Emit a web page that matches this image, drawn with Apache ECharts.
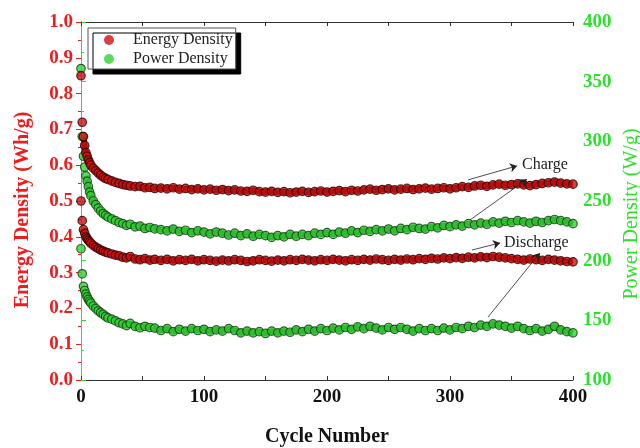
<!DOCTYPE html>
<html>
<head>
<meta charset="utf-8">
<script src="https://cdn.jsdelivr.net/npm/echarts@6/dist/echarts.min.js"></script>
<style>
  html, body { margin: 0; padding: 0; background: #fff; }
  #chart { width: 640px; height: 448px; }
</style>
</head>
<body>
<div id="chart"></div>
<script>
// cycle numbers (x)
var cycles = [0, 1, 2, 3, 4, 5, 6, 7, 8, 10, 12, 14, 16, 18, 20, 22, 25, 28, 31, 34, 37, 40, 44, 48, 52, 56, 60,
  65, 70, 75, 80, 85, 90, 95, 100, 105, 110, 115, 120, 125, 130, 135, 140, 145, 150, 155, 160, 165, 170, 175, 180,
  185, 190, 195, 200, 205, 210, 215, 220, 225, 230, 235, 240, 245, 250, 255, 260, 265, 270, 275, 280, 285, 290, 295,
  300, 305, 310, 315, 320, 325, 330, 335, 340, 345, 350, 355, 360, 365, 370, 375, 380, 385, 390, 395, 400];

// energy density, charge (Wh/g)
var energyCharge = [0.85, 0.72, 0.68, 0.655, 0.635, 0.625, 0.615, 0.607, 0.6, 0.592, 0.585, 0.578, 0.572, 0.567, 0.563, 0.56, 0.556, 0.552, 0.549, 0.546, 0.544, 0.542, 0.54, 0.541, 0.537, 0.538, 0.535,
  0.536, 0.534, 0.537, 0.533, 0.535, 0.532, 0.534, 0.531, 0.533, 0.53, 0.532, 0.529, 0.531, 0.528, 0.527, 0.53, 0.526, 0.525, 0.527, 0.524, 0.526, 0.523, 0.525, 0.527,
  0.524, 0.526, 0.528, 0.525, 0.527, 0.529, 0.526, 0.53, 0.528, 0.531, 0.533, 0.53, 0.532, 0.534, 0.531, 0.533, 0.535, 0.532, 0.534, 0.536, 0.533, 0.535, 0.537,
  0.534, 0.537, 0.54, 0.538, 0.542, 0.544, 0.541, 0.545, 0.547, 0.544, 0.546, 0.548, 0.545, 0.543, 0.546, 0.549, 0.551, 0.553, 0.55, 0.548, 0.547];

// energy density, discharge (Wh/g)
var energyDischarge = [0.5, 0.445, 0.42, 0.41, 0.4, 0.395, 0.39, 0.386, 0.382, 0.376, 0.371, 0.367, 0.363, 0.36, 0.357, 0.355, 0.352, 0.349, 0.347, 0.343, 0.341, 0.345, 0.338, 0.336, 0.339, 0.335, 0.337,
  0.334, 0.337, 0.333, 0.336, 0.334, 0.337, 0.333, 0.336, 0.334, 0.332, 0.335, 0.333, 0.336, 0.334, 0.331, 0.333, 0.336, 0.334, 0.332, 0.335, 0.333, 0.336, 0.334, 0.337,
  0.335, 0.333, 0.336, 0.334, 0.337, 0.335, 0.333, 0.336, 0.334, 0.337, 0.335, 0.338, 0.336, 0.334, 0.337, 0.335, 0.338, 0.336, 0.339, 0.337, 0.34, 0.338, 0.341,
  0.339, 0.342, 0.34, 0.343, 0.341, 0.344, 0.342, 0.345, 0.343, 0.341, 0.339, 0.337, 0.335, 0.338, 0.336, 0.334, 0.337, 0.335, 0.333, 0.331, 0.33];

// power density, charge (W/g)
var powerCharge = [361, 304, 287.5, 278.5, 271, 266.5, 262, 257.5, 254.5, 250, 247, 244, 241.6, 239.5, 238, 236.5, 235, 233.5, 232, 231, 229.6, 230.5, 228.4, 229, 227, 227.8, 226.6,
  226, 225, 226.5, 224.5, 225.5, 223.5, 225, 224, 222.5, 224, 223, 221.5, 223, 221, 222.5, 220.5, 222, 221, 219.5, 221, 220, 222, 220.5, 222,
  221, 223, 222, 223.5, 222, 224, 223, 225, 223.5, 225.5, 224.5, 226, 225, 226.5, 225, 227, 226, 228, 227, 226.5, 228.5, 227.5, 229.5,
  228.5, 230, 229, 231, 230, 231.5, 230.5, 232.5, 231.5, 233, 232, 233.5, 232.5, 231.5, 233, 232, 233.5, 234.5, 233.5, 232.5, 231];

// power density, discharge (W/g)
var powerDischarge = [210, 189, 178.5, 175, 172, 169.6, 167.5, 166, 164.5, 162, 160, 158, 156.4, 155, 153.4, 152, 151, 149.5, 148, 147, 145.6, 147.4, 145, 143.8, 145, 144, 143.5,
  141.5, 143, 140.5, 142.5, 141, 143, 141.5, 142.5, 140.5, 142, 141, 143, 141.5, 139.5, 141, 139.5, 140.5, 139, 141, 139.5, 141, 140, 142, 140.5,
  142.5, 141, 143, 141.5, 143.5, 142, 144, 142.5, 144.5, 143, 145, 143.5, 142, 144, 142.5, 144, 142.5, 141, 143, 141.5, 143, 141.5, 143.5,
  142, 144, 143, 145, 144, 146, 145, 147, 146, 145, 143.5, 145, 143, 141.5, 143, 141, 142.5, 145, 142, 140.5, 139.5];

function pairs(vals, from) {
  var out = [];
  for (var i = from || 0; i < cycles.length; i++) out.push([cycles[i], vals[i]]);
  return out;
}

var RED = '#ee1c1c';
var GREEN = '#2ee02e';
var SERIF = '"Liberation Serif", "DejaVu Serif", serif';

var redDot = { color: '#cc1010', borderColor: '#2a0202', borderWidth: 1.2 };
var greenDot = { color: '#34d234', borderColor: '#143c14', borderWidth: 1.2 };

var arrowStyle = { color: '#222', width: 0.8, type: 'solid' };

// dense chain look: thick line behind the dots
function band(name, yIdx, data, color) {
  return {
    name: name, type: 'line', yAxisIndex: yIdx, data: data, showSymbol: false, silent: true,
    z: 1, lineStyle: { color: color, width: 6 }
  };
}
function dots(name, yIdx, data, style) {
  return { name: name, type: 'scatter', yAxisIndex: yIdx, data: data, symbolSize: 8.5, itemStyle: style, z: 2 };
}

var edSeries = dots('Energy Density', 0, pairs(energyDischarge), redDot);
edSeries.markLine = {
  silent: true, symbol: ['none', 'arrow'], symbolSize: 7,
  label: { show: false }, lineStyle: arrowStyle,
  data: [
    [{ coord: [314.6, 0.559] }, { coord: [354.5, 0.598] }],
    [{ coord: [316.3, 0.447] }, { coord: [362.6, 0.561] }],
    [{ coord: [317.9, 0.363] }, { coord: [340.7, 0.383] }],
    [{ coord: [330.9, 0.176] }, { coord: [373.2, 0.355] }]
  ]
};

var chart = echarts.init(document.getElementById('chart'));
chart.setOption({
  animation: false,
  backgroundColor: '#fff',
  grid: { left: 81, right: 67, top: 22, bottom: 68, containLabel: false, outerBoundsMode: 'none' },
  legend: {
    data: ['Energy Density', 'Power Density'],
    orient: 'vertical',
    left: 88, top: 28,
    itemWidth: 10, itemHeight: 10, itemGap: 3,
    padding: [4, 3, 2, 16],
    backgroundColor: '#fff',
    borderColor: '#555', borderWidth: 1,
    shadowColor: '#000', shadowOffsetX: 5, shadowOffsetY: 5, shadowBlur: 0,
    itemStyle: { borderWidth: 0 },
    textStyle: { fontFamily: SERIF, fontSize: 16, lineHeight: 16, color: '#222', padding: [0, 0, 0, 14] }
  },
  xAxis: [{
    type: 'value', min: 0, max: 400, interval: 100,
    name: 'Cycle Number', nameLocation: 'middle', nameGap: 47,
    nameTextStyle: { fontFamily: SERIF, fontSize: 20, fontWeight: 'bold', color: '#111' },
    axisLine: { lineStyle: { color: '#333', width: 1 } },
    axisTick: { inside: true, length: 4, lineStyle: { color: '#333' } },
    minorTick: { show: true, splitNumber: 2, length: 4, lineStyle: { color: '#333' } },
    axisLabel: { fontFamily: SERIF, fontSize: 19, fontWeight: 'bold', color: '#111', margin: 8 },
    splitLine: { show: false }
  }, {
    type: 'value', min: 0, max: 400, interval: 100, position: 'top',
    axisLine: { show: true, lineStyle: { color: '#333', width: 1 } },
    axisTick: { inside: true, length: 4, lineStyle: { color: '#333' } },
    minorTick: { show: true, splitNumber: 2, length: 4, lineStyle: { color: '#333' } },
    axisLabel: { show: false },
    splitLine: { show: false }
  }],
  yAxis: [{
    type: 'value', min: 0, max: 1, interval: 0.1, position: 'left',
    axisLine: { show: true, lineStyle: { color: RED, width: 1 } },
    axisTick: { show: true, length: 5, lineStyle: { color: RED } },
    minorTick: { show: true, splitNumber: 2, length: 3, lineStyle: { color: RED } },
    axisLabel: { fontFamily: SERIF, fontSize: 19, fontWeight: 'bold', color: RED, margin: 8,
      formatter: function (v) { return v.toFixed(1); } },
    splitLine: { show: false }
  }, {
    type: 'value', min: 100, max: 400, interval: 50, position: 'right',
    axisLine: { show: true, lineStyle: { color: GREEN, width: 1 } },
    axisTick: { show: true, length: 5, lineStyle: { color: GREEN } },
    minorTick: { show: true, splitNumber: 2, length: 3, lineStyle: { color: GREEN } },
    axisLabel: { fontFamily: SERIF, fontSize: 19, fontWeight: 'bold', color: GREEN, margin: 10 },
    splitLine: { show: false }
  }],
  series: [
    dots('Power Density', 1, pairs(powerCharge), greenDot),
    band('pcBand', 1, pairs(powerCharge, 4), '#1f6e1f'),
    dots('Power Density', 1, pairs(powerDischarge), greenDot),
    band('pdBand', 1, pairs(powerDischarge, 3), '#1f6e1f'),
    dots('Energy Density', 0, pairs(energyCharge), redDot),
    band('ecBand', 0, pairs(energyCharge, 2), '#6e0808'),
    edSeries,
    band('edBand', 0, pairs(energyDischarge, 2), '#6e0808')
  ],
  graphic: [
    { type: 'text', x: 23, y: 210, rotation: Math.PI / 2, z: 100,
      style: { text: 'Energy Density (Wh/g)', font: 'bold 20px ' + SERIF, fill: RED,
        align: 'center', verticalAlign: 'middle' } },
    { type: 'text', x: 632, y: 214, rotation: Math.PI / 2, z: 100,
      style: { text: 'Power Density (W/g)', font: '20px ' + SERIF, fill: GREEN,
        align: 'center', verticalAlign: 'middle' } },
    { type: 'text', x: 522, y: 157, z: 100,
      style: { text: 'Charge', font: '16px ' + SERIF, fill: '#222' } },
    { type: 'text', x: 504, y: 235, z: 100,
      style: { text: 'Discharge', font: '16px ' + SERIF, fill: '#222' } }
  ]
});
</script>
</body>
</html>
